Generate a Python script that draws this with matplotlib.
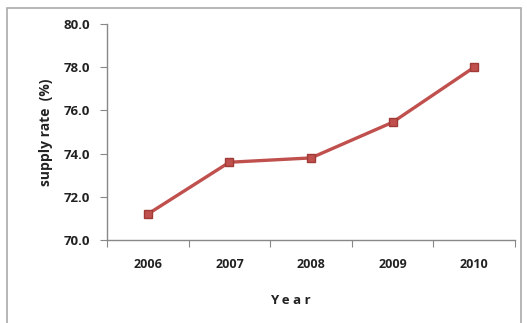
import matplotlib
matplotlib.use("Agg")
import matplotlib.pyplot as plt
from matplotlib.patches import Rectangle

years = ["2006", "2007", "2008", "2009", "2010"]
supply_rate = [71.2, 73.6, 73.8, 75.45, 78.0]
yticks = [70.0, 72.0, 74.0, 76.0, 78.0, 80.0]

plt.rcParams['font.family'] = ['Open Sans', 'DejaVu Sans']

fig = plt.figure(figsize=(5.27, 3.23), dpi=100)
fig.patch.set_facecolor('white')
ax = fig.add_axes([107/527, 1 - 240/323, (515-107)/527, (240-24)/323])

x = list(range(len(years)))
ax.plot(x, supply_rate, color='#C0504D', lw=2.4, marker='s', markersize=6,
        markerfacecolor='#C0504D', markeredgecolor='#A03A37', zorder=3)

ax.set_xlim(-0.5, len(years) - 0.5)
ax.set_ylim(70, 80)
ax.set_yticks(yticks)
ax.set_yticklabels([f"{v:.1f}" for v in yticks], fontsize=9.5, fontweight='bold', color='#222222')
ax.set_xticks([i - 0.5 for i in range(len(years) + 1)], minor=False)
ax.set_xticklabels([])
ax.set_xticks(x, minor=True)
ax.set_xticklabels(years, minor=True, fontsize=9, fontweight='bold', color='#222222')
ax.tick_params(axis='x', which='minor', length=0, pad=13)
ax.tick_params(axis='x', which='major', length=5, color='#888888', direction='out')
ax.tick_params(axis='y', length=5, color='#888888', direction='out', pad=7)

for s in ['top', 'right']:
    ax.spines[s].set_visible(False)
for s in ['left', 'bottom']:
    ax.spines[s].set_color('#888888')
    ax.spines[s].set_linewidth(1.0)

ax.set_ylabel("supply rate  (%)", fontsize=10, fontweight='bold', color='#222222', labelpad=8)
fig.text(290/527, 1 - 300/323, "Y e a r", ha='center', va='center', fontsize=9.5,
         fontweight='bold', color='#222222')

fig.patches.append(Rectangle((7/527, -0.05), (521-7)/527, 1 - 8/323 + 0.05,
                             transform=fig.transFigure, fill=False,
                             edgecolor='#aaaaaa', lw=1.2))

fig.savefig("out.png", dpi=100, facecolor='white')
